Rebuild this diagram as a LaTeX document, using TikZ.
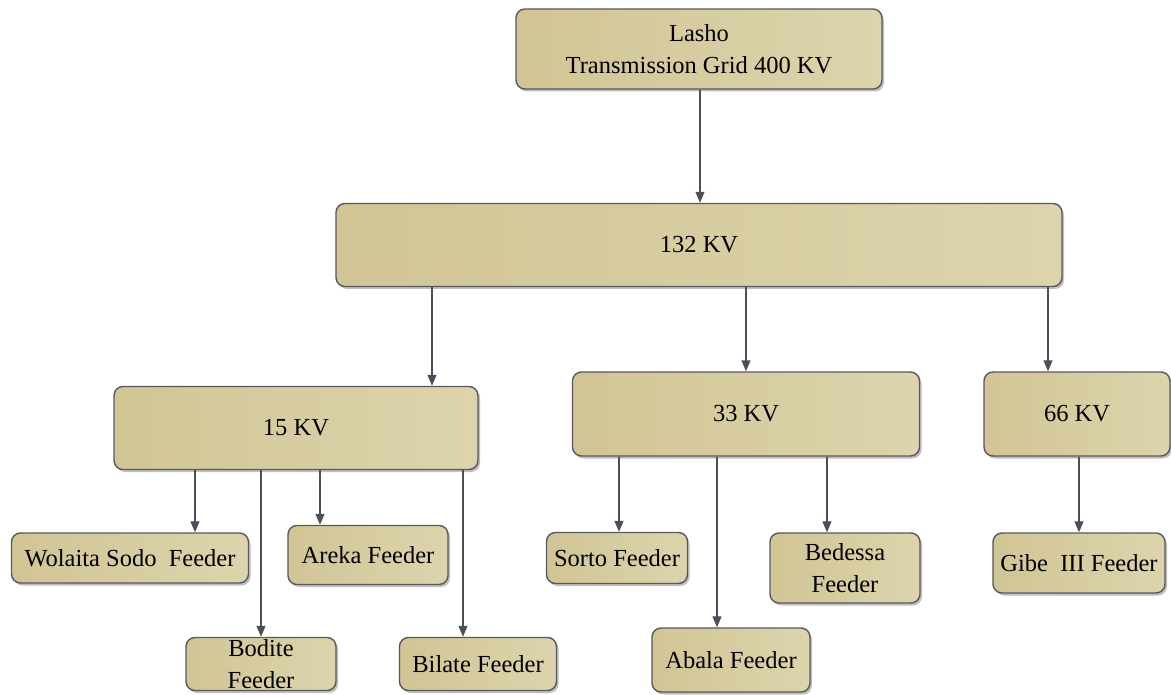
\documentclass[tikz,border=0pt]{standalone}
\usepackage{fontspec}
\setmainfont{Liberation Serif}
\newfontfamily\boxfont{Liberation Serif}
\usetikzlibrary{arrows.meta,shadows}
\definecolor{boxleft}{RGB}{209,197,149}
\definecolor{boxright}{RGB}{221,212,173}
\definecolor{boxline}{RGB}{88,88,94}
\definecolor{arrowgray}{RGB}{78,78,90}

\begin{document}
\begin{tikzpicture}[x=1pt, y=-1pt,
  unit/.style={draw=boxline, line width=1.4pt, rounded corners=9pt,
    left color=boxleft, right color=boxright, align=center, inner sep=0pt,
    font=\boxfont\fontsize{24.5}{32}\selectfont,
    drop shadow={shadow xshift=2pt, shadow yshift=-2.5pt, opacity=0.25, fill=black}},
  feed/.style={draw=arrowgray, line width=1.3pt, -{Triangle[length=11pt,width=9pt]}}]
\path[use as bounding box] (0,0) rectangle (1171,695);
% levels
\node[unit, minimum width=366pt, minimum height=80pt] (lasho) at (699,49) {Lasho\\Transmission Grid 400 KV};
\node[unit, minimum width=726pt, minimum height=83pt] (p132) at (699,245) {132 KV};
\node[unit, minimum width=364pt, minimum height=83pt] (kv15) at (296,428) {15 KV};
\node[unit, minimum width=347pt, minimum height=84pt] (kv33) at (746,414) {33 KV};
\node[unit, minimum width=186pt, minimum height=84pt] (kv66) at (1077,414) {66 KV};
% feeders
\node[unit, minimum width=237pt, minimum height=50pt] (wolaita) at (130,558) {Wolaita Sodo\ \ Feeder};
\node[unit, minimum width=160pt, minimum height=59pt] (areka) at (368,555) {Areka Feeder};
\node[unit, minimum width=150pt, minimum height=53pt] (bodite) at (261,664) {Bodite\\Feeder};
\node[unit, minimum width=157pt, minimum height=53pt] (bilate) at (478,664) {Bilate Feeder};
\node[unit, minimum width=141pt, minimum height=51pt] (sorto) at (617,558) {Sorto Feeder};
\node[unit, minimum width=150pt, minimum height=70pt] (bedessa) at (845,568) {Bedessa\\Feeder};
\node[unit, minimum width=158pt, minimum height=64pt] (abala) at (731,660) {Abala Feeder};
\node[unit, minimum width=172pt, minimum height=60pt] (gibe) at (1079,563) {Gibe\ \ III Feeder};
% arrows
\draw[feed] (lasho.south -| 700,0) -- (p132.north -| 700,0);
\draw[feed] (p132.south -| 432,0) -- (kv15.north -| 432,0);
\draw[feed] (p132.south -| 746,0) -- (kv33.north -| 746,0);
\draw[feed] (p132.south -| 1048,0) -- (kv66.north -| 1048,0);
\draw[feed] (kv15.south -| 195,0) -- (wolaita.north -| 195,0);
\draw[feed] (kv15.south -| 261,0) -- (bodite.north -| 261,0);
\draw[feed] (kv15.south -| 320,0) -- (areka.north -| 320,0);
\draw[feed] (kv15.south -| 463,0) -- (bilate.north -| 463,0);
\draw[feed] (kv33.south -| 619,0) -- (sorto.north -| 619,0);
\draw[feed] (kv33.south -| 717,0) -- (abala.north -| 717,0);
\draw[feed] (kv33.south -| 827,0) -- (bedessa.north -| 827,0);
\draw[feed] (kv66.south -| 1079,0) -- (gibe.north -| 1079,0);
\end{tikzpicture}
\end{document}
